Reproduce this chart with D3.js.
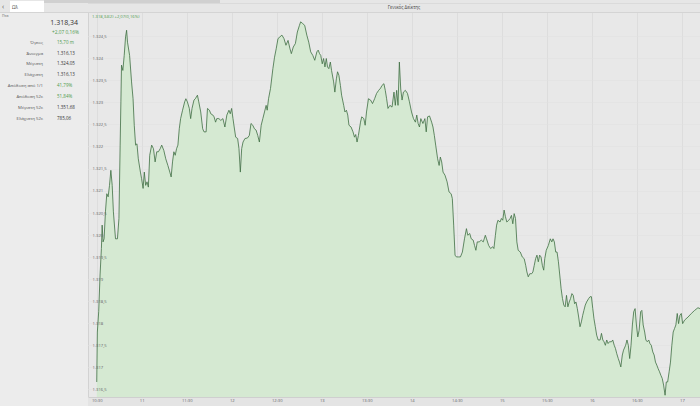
<!DOCTYPE html>
<html><head><meta charset="utf-8">
<script src="https://cdn.jsdelivr.net/npm/d3@7"></script>
<style>
html,body{margin:0;padding:0;background:#ececec;}
svg{display:block;font-family:"Open Sans","Noto Sans",sans-serif;}
</style></head>
<body>
<svg id="c" width="700" height="406"></svg>
<script>
// minutes after 10:30 (market open) and index level
const minutes = [0,0.4,1.3,2.2,3.1,3.6,4.2,4.9,5.8,6.7,7.6,8.5,9.4,10.3,11.1,12.5,13.8,14.8,15.6,16.1,16.5,17.4,18.3,19.2,19.9,20.5,21.9,23.2,24.2,25.0,25.9,26.8,27.7,29.1,29.9,30.9,31.7,32.6,33.5,34.4,35.3,36.6,37.8,38.9,40.0,41.1,42.3,43.3,44.7,46.0,47.4,48.7,49.6,50.5,51.4,52.3,53.2,54.1,55.0,55.9,57.2,58.6,59.4,60.4,61.7,62.6,63.5,64.8,65.7,67.1,68.0,69.3,70.6,71.5,72.9,73.8,75.1,76.0,77.4,78.2,79.2,80.0,81.4,82.7,84.1,85.4,86.7,88.1,89.0,89.9,90.8,91.6,92.6,93.9,94.8,95.7,96.6,97.5,98.8,100.4,
101.7,102.8,104.0,105.1,106.2,107.3,108.4,109.6,110.7,111.8,112.9,113.6,114.5,115.8,117.4,118.5,119.6,120.8,122.1,123.4,124.8,126.1,127.5,128.8,129.7,131.0,132.4,133.7,135.1,135.9,137.3,138.6,140.0,141.3,142.6,144.0,145.3,146.7,147.6,148.5,149.3,150.3,151.2,152.1,153.0,153.8,154.7,155.7,156.5,157.9,158.7,159.7,160.5,161.4,162.4,163.2,164.6,165.4,166.4,167.3,168.1,169.5,170.8,171.8,172.6,173.5,174.4,175.8,176.6,178.0,178.9,179.8,181.1,182.5,183.8,185.2,186.5,187.9,189.2,190.1,191.4,192.3,193.2,194.1,195.4,196.8,198.1,199.0,199.9,200.8,201.7,202.6,203.5,204.4,205.7,207.1,208.4,209.8,211.1,
212.4,213.3,214.2,215.1,216.0,217.4,218.7,219.6,220.5,221.8,223.2,224.1,225.0,225.9,227.2,228.2,229.0,229.9,230.8,232.1,233.5,234.8,236.2,237.0,237.9,238.8,239.7,241.1,242.4,243.7,245.1,246.4,247.3,248.6,249.6,250.9,251.8,252.7,253.6,254.9,256.3,257.6,259.0,259.8,261.2,262.5,263.9,264.7,265.7,266.5,267.4,268.8,269.7,270.6,271.5,272.4,273.3,274.6,275.5,276.4,277.3,278.2,279.1,280.0,280.9,282.3,283.6,284.9,285.9,286.7,287.6,288.6,289.9,290.7,291.6,292.5,293.4,294.3,295.2,296.1,297.0,297.9,
298.6,299.6,301.0,302.3,303.3,304.1,305.0,305.9,306.8,307.7,308.6,309.5,310.4,311.3,312.2,313.1,314.0,314.9,315.8,316.7,317.6,318.5,319.4,320.3,321.2,322.1,323.0,323.9,324.7,325.6,326.5,327.9,328.8,329.7,330.6,331.4,332.3,333.2,334.2,335.5,336.4,337.3,338.1,339.0,339.9,340.8,341.7,343.1,343.9,344.9,345.7,346.6,347.6,348.4,349.3,350.3,351.1,352.5,353.4,354.3,355.2,356.1,357.0,357.9,358.8,359.7,360.6,361.5,362.5,363.3,364.2,365.2,366.0,366.9,367.9,368.7,369.6,370.6,371.5,372.4,373.3,374.2,375.1,376.0,376.9,377.8,378.8,379.6,380.5,381.5,382.4,383.3,384.2,385.1,386.0,386.9,387.8,388.7,389.6,390.5,391.8,394.1,396.3,398.5,400.7,402.1,403.0];

const values = [1316.67,1317.80,1318.26,1319.09,1319.69,1320.22,1319.84,1319.91,1320.52,1320.93,1320.86,1321.12,1321.46,1321.12,1320.52,1319.91,1319.91,1320.37,1322.03,1323.01,1323.84,1323.72,1324.06,1324.48,1324.63,1324.36,1324.06,1323.46,1323.08,1322.48,1322.03,1322.06,1321.72,1321.42,1321.27,1321.05,1321.42,1321.12,1321.20,1321.08,1321.80,1322.03,1321.95,1321.65,1321.88,1321.88,1321.95,1322.03,1321.91,1321.72,1321.57,1321.42,1321.31,1321.65,1321.88,1321.80,1321.95,1322.03,1322.40,1322.63,1322.82,1323.01,1323.08,1323.01,1322.86,1322.63,1322.86,1323.05,1323.08,1323.16,1323.01,1322.78,1322.40,1322.33,1322.33,1322.86,1322.82,1322.74,1322.71,1322.67,1322.55,1322.63,1322.63,1322.59,1322.63,1322.44,1322.71,1322.82,1322.74,1322.86,1322.63,1322.44,1322.21,1322.18,1321.95,1321.42,1321.95,1322.10,1322.18,1322.19,
1322.25,1322.52,1322.48,1322.40,1322.37,1322.25,1322.10,1322.48,1322.63,1322.78,1322.93,1322.82,1323.08,1323.31,1323.76,1324.02,1324.21,1324.44,1324.48,1324.52,1324.44,1324.29,1324.40,1324.21,1324.10,1324.25,1324.33,1324.59,1324.74,1324.82,1324.78,1324.74,1324.52,1324.36,1324.14,1324.06,1323.95,1324.14,1324.18,1324.10,1324.06,1323.87,1323.99,1323.80,1323.99,1323.80,1323.76,1323.91,1323.72,1323.46,1323.23,1323.53,1323.69,1323.61,1323.38,1323.16,1322.93,1322.78,1322.82,1322.71,1322.48,1322.44,1322.33,1322.21,1322.27,1322.10,1322.25,1322.55,1322.67,1322.63,1322.48,1322.78,1323.08,1323.05,1322.97,1323.08,1323.20,1323.27,1323.32,1323.38,1323.42,1323.27,1323.08,1322.86,1322.93,1322.89,1323.23,1322.93,1323.27,1322.93,1323.91,1323.30,1323.05,1323.23,1323.27,1323.20,1323.01,1322.78,1322.63,
1322.55,1322.71,1322.52,1322.44,1322.63,1322.52,1322.63,1322.33,1322.67,1322.69,1322.55,1322.44,1322.25,1322.03,1321.72,1321.57,1321.76,1321.65,1321.42,1321.35,1321.20,1320.97,1320.93,1320.82,1320.22,1319.54,1319.50,1319.50,1319.50,1319.61,1319.91,1320.14,1319.99,1320.03,1319.91,1319.88,1319.76,1319.65,1319.84,1319.84,1319.88,1319.84,1319.99,1319.91,1319.76,1319.69,1319.73,1319.69,1319.99,1320.22,1320.33,1320.29,1320.37,1320.33,1320.56,1320.41,1320.29,1320.33,1320.37,1320.44,1320.25,1320.48,1320.37,1319.84,1319.65,1319.61,1319.50,1319.46,1319.31,1319.16,1319.05,1319.12,1319.12,1319.16,1319.31,1319.46,1319.54,1319.39,1319.54,1319.50,1319.31,1319.20,
1319.46,1319.65,1319.76,1319.91,1319.84,1319.91,1319.84,1319.61,1319.61,1319.39,1319.09,1318.78,1318.56,1318.41,1318.37,1318.63,1318.37,1318.48,1318.56,1318.67,1318.63,1318.44,1318.48,1318.33,1318.14,1317.92,1318.03,1318.18,1318.29,1318.41,1318.48,1318.56,1318.60,1318.60,1318.33,1318.10,1317.92,1317.73,1317.62,1317.62,1317.77,1317.62,1317.58,1317.50,1317.62,1317.54,1317.58,1317.58,1317.62,1317.50,1317.43,1317.31,1317.20,1317.12,1317.01,1317.28,1317.39,1317.50,1317.62,1317.50,1317.20,1317.50,1317.96,1318.26,1318.33,1317.96,1317.69,1317.84,1318.26,1318.29,1317.96,1317.80,1317.62,1317.58,1317.62,1317.54,1317.50,1317.35,1317.28,1317.12,1317.05,1316.97,1316.90,1316.82,1316.75,1316.60,1316.37,1316.67,1316.67,1316.90,1317.12,1317.50,1317.80,1317.88,1317.96,1318.22,1317.99,1318.18,1318.22,1317.99,1318.07,1318.14,1318.22,1318.29,1318.35,1318.33,1318.30];

const xTickMinutes = [0,30,60,90,120,150,180,210,240,270,300,330,360,390];
const xTickLabels = ["10:30","11","11:30","12","12:30","13","13:30","14","14:30","15","15:30","16","16:30","17"];
const yTickValues = [1316.5,1317,1317.5,1318,1318.5,1319,1319.5,1320,1320.5,1321,1321.5,1322,1322.5,1323,1323.5,1324,1324.5];

const statLabels = ["Όγκος","Άνοιγμα","Μέγιστη","Ελάχιστη","Απόδοση από 1/1","Απόδοση 52ε","Μέγιστη 52ε","Ελάχιστη 52ε"];
const statValues = ["15,70 m","1.316,13","1.324,05","1.316,13","41,79%","51,84%","1.351,68","785,06"];
const statGreen  = [true,false,false,false,true,true,false,false];

const lastPrice = "1.318,34";
const change = "+2,07  0,16%";
const chartHeader = "1.318,34(2) +2,07(0,16%)";
const title = "Γενικός Δείκτης";

const svg = d3.select("#c");
const green = "#4e9a4e";

// panels
svg.append("rect").attr("x",0).attr("y",0).attr("width",700).attr("height",406).attr("fill","#ececec");
const plot = {left:88, right:700, top:13, bottom:397};
svg.append("rect").attr("x",plot.left).attr("y",plot.top).attr("width",plot.right-plot.left).attr("height",plot.bottom-plot.top).attr("fill","#e8e8e8");
svg.append("line").attr("x1",plot.left+0.5).attr("x2",plot.left+0.5).attr("y1",plot.top).attr("y2",406).attr("stroke","#d2d2d2");

// top bar
svg.append("rect").attr("x",0).attr("y",0).attr("width",700).attr("height",13).attr("fill","#e6e6e6");
svg.append("rect").attr("x",44).attr("y",0).attr("width",176).attr("height",3).attr("fill","#d0d0d0");
svg.append("line").attr("x1",88).attr("x2",700).attr("y1",3.5).attr("y2",3.5).attr("stroke","#dadada");
svg.append("line").attr("x1",0).attr("x2",700).attr("y1",12.5).attr("y2",12.5).attr("stroke","#d4d4d4");
svg.append("rect").attr("x",10).attr("y",1).attr("width",34).attr("height",11).attr("fill","#ffffff");
svg.append("text").attr("x",12).attr("y",8.5).attr("font-size",4.5).attr("fill","#444").text("Ωλ");
svg.append("text").attr("x",2).attr("y",9).attr("font-size",7).attr("fill","#555").text("‹");
svg.append("text").attr("x",2).attr("y",16.5).attr("font-size",3.5).attr("fill","#666").text("Πτα");
svg.append("text").attr("x",404).attr("y",8.5).attr("text-anchor","middle").attr("font-size",4.5).attr("fill","#444").text(title);

// scales
const x = d3.scaleLinear().domain([-5.83, 402.07]).range([plot.left, plot.right]);
const y = d3.scaleLinear().domain([1316.33, 1325.02]).range([plot.bottom, plot.top]);

// grid
const g = svg.append("g");
g.selectAll("line.vg").data(xTickMinutes).join("line")
  .attr("x1",d=>Math.round(x(d))+0.5).attr("x2",d=>Math.round(x(d))+0.5)
  .attr("y1",plot.top).attr("y2",plot.bottom).attr("stroke","#d9d9d9").attr("stroke-width",0.8);
g.selectAll("line.hg").data(yTickValues).join("line")
  .attr("x1",plot.left).attr("x2",plot.right)
  .attr("y1",d=>Math.round(y(d))+0.5).attr("y2",d=>Math.round(y(d))+0.5).attr("stroke","#e0e0e0").attr("stroke-width",0.6);

const data = d3.zip(minutes, values);

// area + line
const area = d3.area().x(d=>x(d[0])).y0(plot.bottom).y1(d=>y(d[1]));
const line = d3.line().x(d=>x(d[0])).y(d=>y(d[1]));
svg.append("path").datum(data).attr("d",area).attr("fill","#d5e9d2");
svg.append("path").datum(data).attr("d",line).attr("fill","none").attr("stroke","#3f6f43").attr("stroke-width",0.8).attr("stroke-linejoin","round");

// axes
const loc = d3.formatLocale({decimal:",", thousands:".", grouping:[3], currency:["","€"]});
const yfmt = loc.format(",.1~f");
const yAxis = d3.axisRight(y).tickValues(yTickValues).tickFormat(yfmt).tickSize(0).tickPadding(0);
const ya = svg.append("g").attr("transform",`translate(${plot.left+4.5},0)`).call(yAxis);
ya.select(".domain").remove();
ya.selectAll("text").attr("font-size",4.2).attr("fill","#666").attr("font-family","'Open Sans',sans-serif");

const xAxis = d3.axisBottom(x).tickValues(xTickMinutes).tickFormat((d,i)=>xTickLabels[i]).tickSize(0).tickPadding(2);
svg.append("rect").attr("x",plot.left).attr("y",plot.bottom).attr("width",plot.right-plot.left).attr("height",9).attr("fill","#e4e4e4");
const xa = svg.append("g").attr("transform",`translate(0,${plot.bottom})`).call(xAxis);
xa.select(".domain").attr("stroke","#cfcfcf");
xa.selectAll("text").attr("font-size",4.2).attr("fill","#666").attr("font-family","'Open Sans',sans-serif");

// chart header
svg.append("text").attr("x",92).attr("y",18).attr("font-size",4.2).attr("fill",green).text(chartHeader);

// left panel
svg.append("text").attr("x",78).attr("y",25).attr("text-anchor","end").attr("font-size",7).attr("fill","#333").text(lastPrice);
svg.append("text").attr("x",79).attr("y",34).attr("text-anchor","end").attr("font-size",4.8).attr("fill",green).text(change);
const rowY = d3.scaleLinear().domain([0,7]).range([43.8,119.5]);
svg.selectAll("text.sl").data(statLabels).join("text")
  .attr("x",43).attr("y",(d,i)=>rowY(i)).attr("text-anchor","end").attr("font-size",4.3).attr("fill","#555").text(d=>d);
svg.selectAll("text.sv").data(statValues).join("text")
  .attr("x",57).attr("y",(d,i)=>rowY(i)).attr("font-size",4.5).attr("fill",(d,i)=>statGreen[i]?green:"#333").text(d=>d);
</script>
</body></html>
